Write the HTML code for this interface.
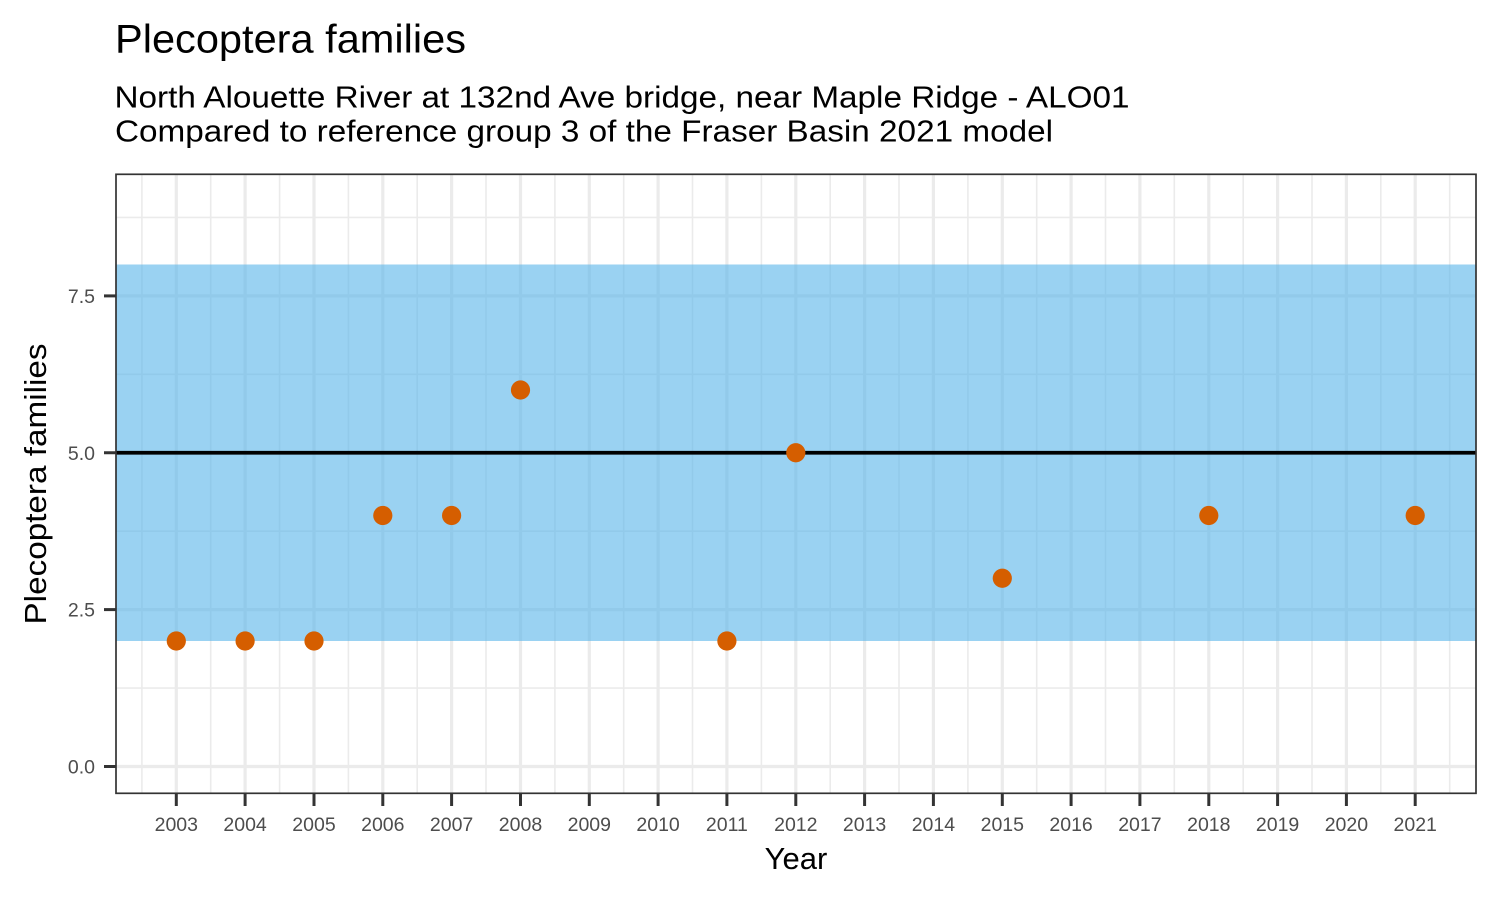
<!DOCTYPE html>
<html>
<head>
<meta charset="utf-8">
<style>
  html, body { margin: 0; padding: 0; background: #ffffff; }
  svg { display: block; }
  text { font-family: "Liberation Sans", Arial, sans-serif; }
</style>
</head>
<body>
<svg width="1500" height="900" viewBox="0 0 1500 900" xmlns="http://www.w3.org/2000/svg">
  <rect x="0" y="0" width="1500" height="900" fill="#ffffff"/>

  <!-- Titles -->
  <text x="115" y="52.5" font-size="39.5" fill="#000000" textLength="351" lengthAdjust="spacingAndGlyphs">Plecoptera families</text>
  <text x="114.5" y="107.3" font-size="31" fill="#000000" textLength="1015" lengthAdjust="spacingAndGlyphs">North Alouette River at 132nd Ave bridge, near Maple Ridge - ALO01</text>
  <text x="115" y="141.7" font-size="31" fill="#000000" textLength="938" lengthAdjust="spacingAndGlyphs">Compared to reference group 3 of the Fraser Basin 2021 model</text>

  <defs>
    <clipPath id="panel">
      <rect x="116" y="174.3" width="1360" height="619"/>
    </clipPath>
  </defs>

  <g clip-path="url(#panel)">
    <rect x="116" y="174.3" width="1360" height="619" fill="#ffffff"/>
    <!-- minor gridlines -->
    <g stroke="#ebebeb" stroke-width="1.6">
      <line x1="116" x2="1476" y1="688.1" y2="688.1"/>
      <line x1="116" x2="1476" y1="531.2" y2="531.2"/>
      <line x1="116" x2="1476" y1="374.3" y2="374.3"/>
      <line x1="116" x2="1476" y1="217.4" y2="217.4"/>
      <line x1="141.9" x2="141.9" y1="174" y2="794"/>
      <line x1="210.7" x2="210.7" y1="174" y2="794"/>
      <line x1="279.6" x2="279.6" y1="174" y2="794"/>
      <line x1="348.4" x2="348.4" y1="174" y2="794"/>
      <line x1="417.2" x2="417.2" y1="174" y2="794"/>
      <line x1="486.0" x2="486.0" y1="174" y2="794"/>
      <line x1="554.9" x2="554.9" y1="174" y2="794"/>
      <line x1="623.7" x2="623.7" y1="174" y2="794"/>
      <line x1="692.5" x2="692.5" y1="174" y2="794"/>
      <line x1="761.4" x2="761.4" y1="174" y2="794"/>
      <line x1="830.2" x2="830.2" y1="174" y2="794"/>
      <line x1="899.0" x2="899.0" y1="174" y2="794"/>
      <line x1="967.9" x2="967.9" y1="174" y2="794"/>
      <line x1="1036.7" x2="1036.7" y1="174" y2="794"/>
      <line x1="1105.5" x2="1105.5" y1="174" y2="794"/>
      <line x1="1174.3" x2="1174.3" y1="174" y2="794"/>
      <line x1="1243.2" x2="1243.2" y1="174" y2="794"/>
      <line x1="1312.0" x2="1312.0" y1="174" y2="794"/>
      <line x1="1380.8" x2="1380.8" y1="174" y2="794"/>
      <line x1="1449.7" x2="1449.7" y1="174" y2="794"/>
    </g>
    <!-- major gridlines -->
    <g stroke="#ebebeb" stroke-width="3.2">
      <line x1="116" x2="1476" y1="766.5" y2="766.5"/>
      <line x1="116" x2="1476" y1="609.6" y2="609.6"/>
      <line x1="116" x2="1476" y1="452.75" y2="452.75"/>
      <line x1="116" x2="1476" y1="295.9" y2="295.9"/>
      <line x1="176.3" x2="176.3" y1="174" y2="794"/>
      <line x1="245.1" x2="245.1" y1="174" y2="794"/>
      <line x1="314.0" x2="314.0" y1="174" y2="794"/>
      <line x1="382.8" x2="382.8" y1="174" y2="794"/>
      <line x1="451.6" x2="451.6" y1="174" y2="794"/>
      <line x1="520.5" x2="520.5" y1="174" y2="794"/>
      <line x1="589.3" x2="589.3" y1="174" y2="794"/>
      <line x1="658.1" x2="658.1" y1="174" y2="794"/>
      <line x1="726.9" x2="726.9" y1="174" y2="794"/>
      <line x1="795.8" x2="795.8" y1="174" y2="794"/>
      <line x1="864.6" x2="864.6" y1="174" y2="794"/>
      <line x1="933.4" x2="933.4" y1="174" y2="794"/>
      <line x1="1002.3" x2="1002.3" y1="174" y2="794"/>
      <line x1="1071.1" x2="1071.1" y1="174" y2="794"/>
      <line x1="1139.9" x2="1139.9" y1="174" y2="794"/>
      <line x1="1208.8" x2="1208.8" y1="174" y2="794"/>
      <line x1="1277.6" x2="1277.6" y1="174" y2="794"/>
      <line x1="1346.4" x2="1346.4" y1="174" y2="794"/>
      <line x1="1415.2" x2="1415.2" y1="174" y2="794"/>
    </g>

    <!-- reference band -->
    <rect x="116" y="264.5" width="1360" height="376.5" fill="rgb(86,180,233)" fill-opacity="0.6"/>

    <!-- reference line -->
    <line x1="116" x2="1476" y1="452.75" y2="452.75" stroke="#000000" stroke-width="3.8"/>

    <!-- points -->
    <g fill="#D55E00">
      <circle cx="176.3" cy="641.0" r="9.6"/>
      <circle cx="245.1" cy="641.0" r="9.6"/>
      <circle cx="314.0" cy="641.0" r="9.6"/>
      <circle cx="382.8" cy="515.5" r="9.6"/>
      <circle cx="451.6" cy="515.5" r="9.6"/>
      <circle cx="520.5" cy="390.0" r="9.6"/>
      <circle cx="726.9" cy="641.0" r="9.6"/>
      <circle cx="795.8" cy="452.75" r="9.6"/>
      <circle cx="1002.3" cy="578.25" r="9.6"/>
      <circle cx="1208.8" cy="515.5" r="9.6"/>
      <circle cx="1415.2" cy="515.5" r="9.6"/>
    </g>
  </g>

  <!-- panel border -->
  <rect x="116" y="174.3" width="1360" height="619" fill="none" stroke="#333333" stroke-width="1.7"/>

  <!-- y ticks -->
  <g stroke="#333333" stroke-width="3">
    <line x1="104" x2="116" y1="766.5" y2="766.5"/>
    <line x1="104" x2="116" y1="609.6" y2="609.6"/>
    <line x1="104" x2="116" y1="452.75" y2="452.75"/>
    <line x1="104" x2="116" y1="295.9" y2="295.9"/>
  </g>
  <g font-size="19.5" fill="#4d4d4d" text-anchor="end">
    <text x="95" y="773.5">0.0</text>
    <text x="95" y="616.6">2.5</text>
    <text x="95" y="459.75">5.0</text>
    <text x="95" y="302.9">7.5</text>
  </g>

  <!-- x ticks -->
  <g stroke="#333333" stroke-width="3">
    <line x1="176.3" x2="176.3" y1="794" y2="806"/>
    <line x1="245.1" x2="245.1" y1="794" y2="806"/>
    <line x1="314.0" x2="314.0" y1="794" y2="806"/>
    <line x1="382.8" x2="382.8" y1="794" y2="806"/>
    <line x1="451.6" x2="451.6" y1="794" y2="806"/>
    <line x1="520.5" x2="520.5" y1="794" y2="806"/>
    <line x1="589.3" x2="589.3" y1="794" y2="806"/>
    <line x1="658.1" x2="658.1" y1="794" y2="806"/>
    <line x1="726.9" x2="726.9" y1="794" y2="806"/>
    <line x1="795.8" x2="795.8" y1="794" y2="806"/>
    <line x1="864.6" x2="864.6" y1="794" y2="806"/>
    <line x1="933.4" x2="933.4" y1="794" y2="806"/>
    <line x1="1002.3" x2="1002.3" y1="794" y2="806"/>
    <line x1="1071.1" x2="1071.1" y1="794" y2="806"/>
    <line x1="1139.9" x2="1139.9" y1="794" y2="806"/>
    <line x1="1208.8" x2="1208.8" y1="794" y2="806"/>
    <line x1="1277.6" x2="1277.6" y1="794" y2="806"/>
    <line x1="1346.4" x2="1346.4" y1="794" y2="806"/>
    <line x1="1415.2" x2="1415.2" y1="794" y2="806"/>
  </g>
  <g font-size="19.5" fill="#4d4d4d" text-anchor="middle">
    <text x="176.3" y="831">2003</text>
    <text x="245.1" y="831">2004</text>
    <text x="314.0" y="831">2005</text>
    <text x="382.8" y="831">2006</text>
    <text x="451.6" y="831">2007</text>
    <text x="520.5" y="831">2008</text>
    <text x="589.3" y="831">2009</text>
    <text x="658.1" y="831">2010</text>
    <text x="726.9" y="831">2011</text>
    <text x="795.8" y="831">2012</text>
    <text x="864.6" y="831">2013</text>
    <text x="933.4" y="831">2014</text>
    <text x="1002.3" y="831">2015</text>
    <text x="1071.1" y="831">2016</text>
    <text x="1139.9" y="831">2017</text>
    <text x="1208.8" y="831">2018</text>
    <text x="1277.6" y="831">2019</text>
    <text x="1346.4" y="831">2020</text>
    <text x="1415.2" y="831">2021</text>
  </g>

  <!-- axis titles -->
  <text x="796" y="869" font-size="31" fill="#000000" text-anchor="middle">Year</text>
  <text transform="translate(46,484) rotate(-90)" x="0" y="0" font-size="31" fill="#000000" text-anchor="middle" textLength="281" lengthAdjust="spacingAndGlyphs">Plecoptera families</text>
</svg>
</body>
</html>
